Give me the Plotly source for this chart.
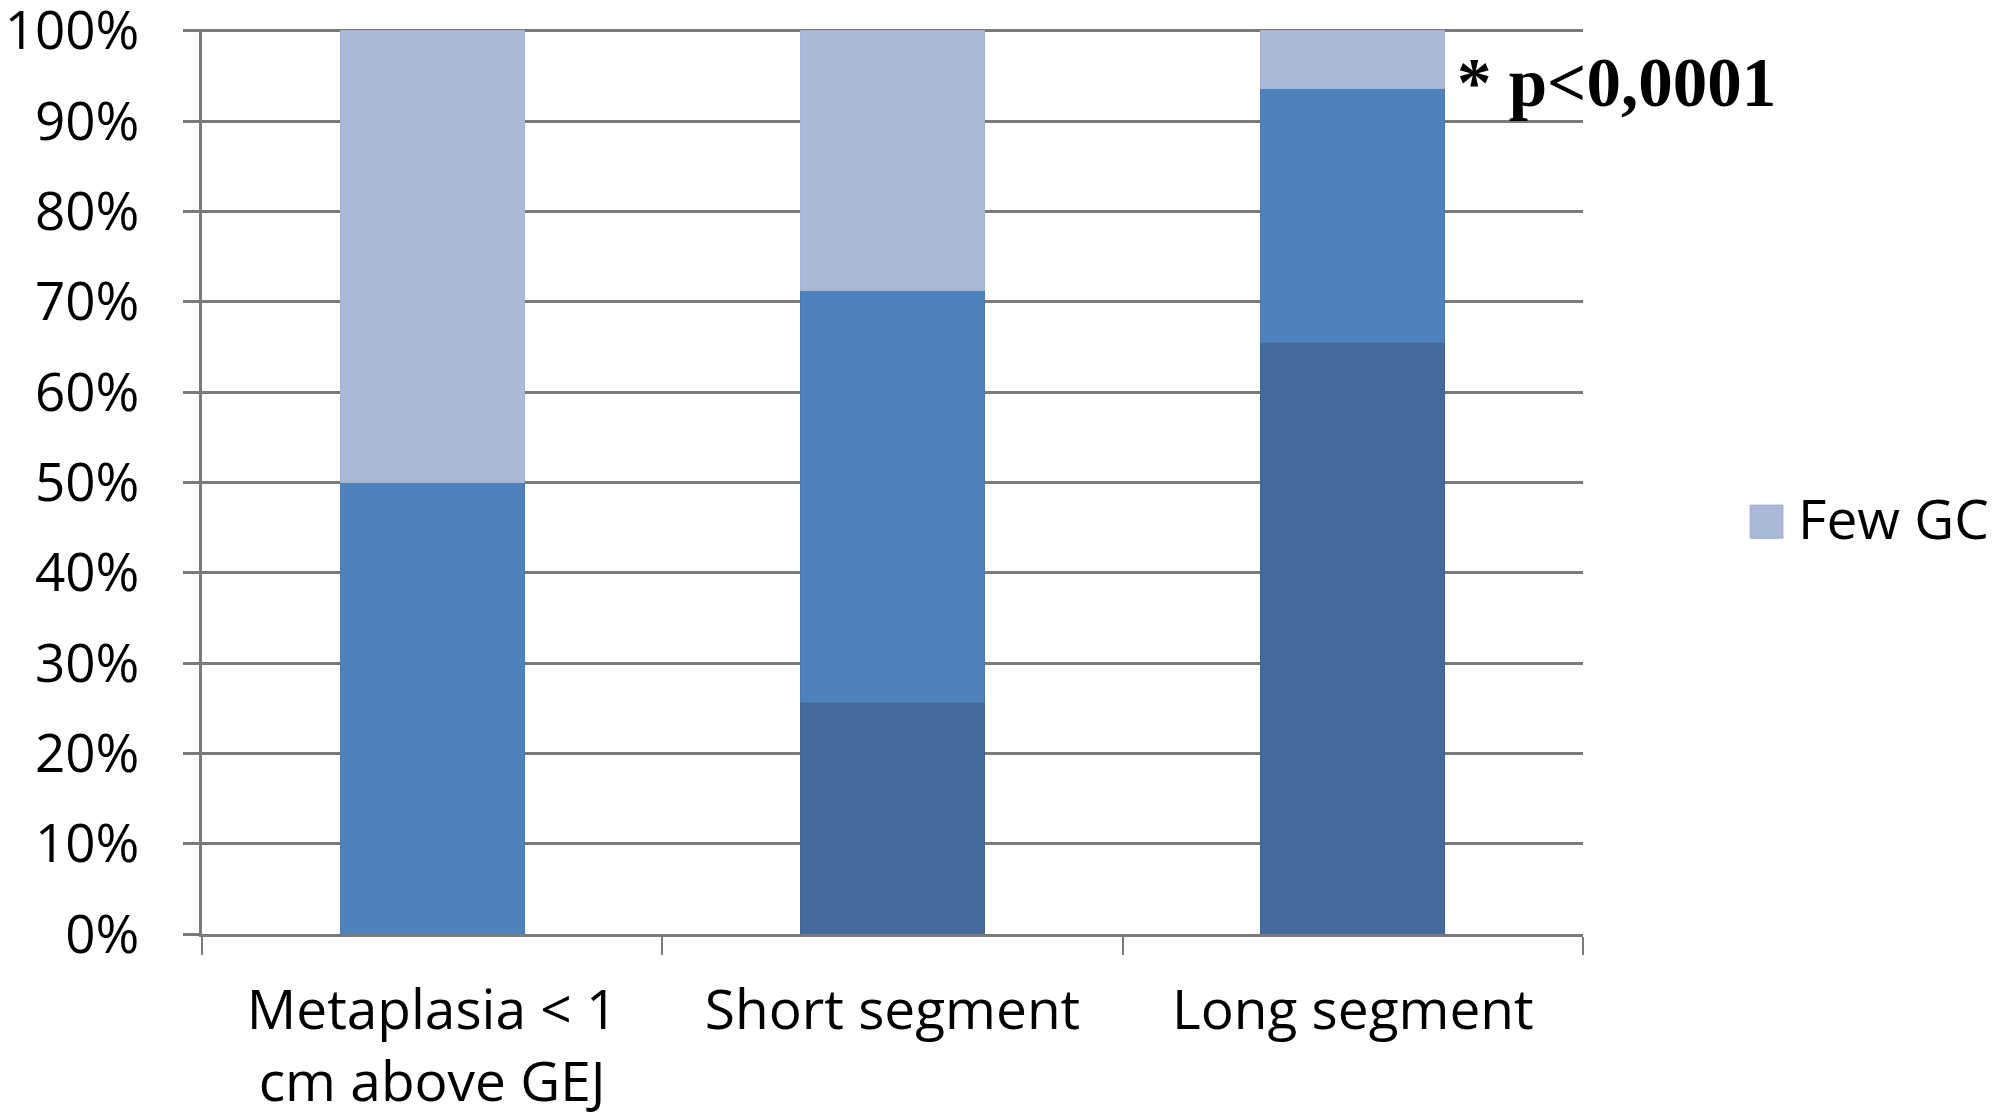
import plotly.graph_objects as go

# categories on x axis
categories = ["Metaplasia < 1<br>cm above GEJ", "Short segment", "Long segment"]

# stacked shares in percent, bottom to top
many_gc = [0, 25.6, 65.5]
moderate_gc = [50, 45.6, 28.1]
few_gc = [50, 28.8, 6.4]

# y axis ticks
y_ticks = [0, 10, 20, 30, 40, 50, 60, 70, 80, 90, 100]
y_tick_text = [f"{v}%" for v in y_ticks]

colors = {"many": "#426A9B", "moderate": "#4F81BD", "few": "#AAB9D7"}
font_name = "Open Sans"
grid_col = "#7A7A7A"

fig = go.Figure()
fig.add_bar(x=categories, y=many_gc, name="Many GC", marker_color=colors["many"],
            marker_line=dict(color="#3E6592", width=1), showlegend=False)
fig.add_bar(x=categories, y=moderate_gc, name="Moderate GC", marker_color=colors["moderate"],
            marker_line=dict(color="#4A7AB3", width=1), showlegend=False)
fig.add_bar(x=categories, y=few_gc, name="Few GC", marker_color=colors["few"],
            marker_line=dict(color="#A2B3D3", width=1), showlegend=False)

fig.update_layout(
    barmode="stack",
    bargap=0.6,
    width=2000, height=1118,
    margin=dict(l=194, r=425, t=21, b=192),
    plot_bgcolor="white", paper_bgcolor="white",
    font=dict(family=font_name, size=55, color="black"),
)

fig.update_yaxes(
    range=[0, 100.2], tickvals=y_ticks, ticktext=y_tick_text,
    tickfont=dict(size=53),
    showgrid=True, gridcolor=grid_col, gridwidth=3,
    showline=True, linecolor=grid_col, linewidth=3,
    ticks="outside", ticklen=16, tickcolor=grid_col, tickwidth=3,
    ticklabelstandoff=33, ticklabeloverflow="allow", zeroline=False,
    automargin=False,
)
fig.update_xaxes(
    showline=True, linecolor=grid_col, linewidth=3,
    ticks="outside", tickson="boundaries", ticklen=18, tickcolor=grid_col, tickwidth=2,
    ticklabelstandoff=26, automargin=False,
)

# p-value note next to the last bar
fig.add_annotation(x=0.907, y=0.94, xref="paper", yref="paper",
                   text="<b>* p<0,0001</b>", showarrow=False,
                   xanchor="left", yanchor="middle",
                   font=dict(family="Liberation Serif", size=69, color="black"))

# legend (only "Few GC" shows in the original)
fig.add_shape(type="rect", xref="paper", yref="paper",
              x0=1.121, x1=1.1448, y0=0.4373, y1=0.4739,
              fillcolor=colors["few"], line=dict(color="#9FB0D2", width=1))
fig.add_annotation(x=1.154, y=0.4606, xref="paper", yref="paper",
                   text="Few GC", showarrow=False, xanchor="left", yanchor="middle",
                   font=dict(family=font_name, size=55, color="black"))

fig.write_html("out.html")
